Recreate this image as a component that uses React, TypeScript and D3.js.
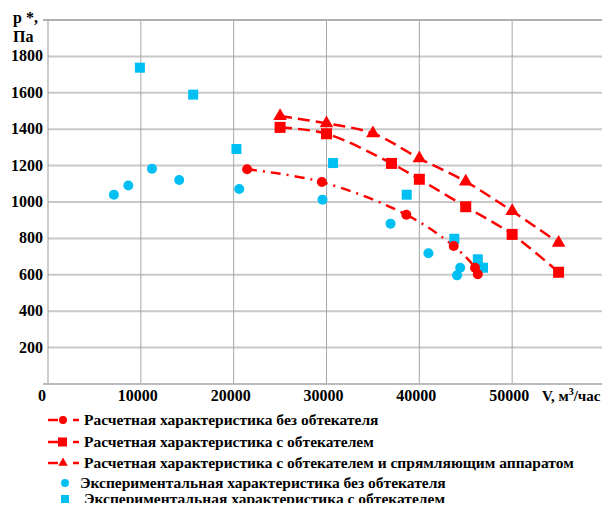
import React from "react";
import * as d3 from "d3";

// Расчетные характеристики
const calcNoFairingV = [21450, 29500, 38600, 43700, 46000, 46300];
const calcNoFairingP = [1180, 1110, 930, 758, 639, 603];

const calcFairingV = [25000, 30000, 37000, 40000, 45000, 50000, 55000];
const calcFairingP = [1410, 1375, 1212, 1125, 974, 822, 614];

const calcStraightV = [25000, 30000, 35000, 40000, 45000, 50000, 55000];
const calcStraightP = [1472, 1432, 1377, 1240, 1112, 950, 776];

// Экспериментальные характеристики
const expNoFairingV = [7100, 8650, 11200, 14130, 20600, 29570, 36900, 40980, 44400, 44060];
const expNoFairingP = [1040, 1091, 1183, 1121, 1071, 1013, 881, 718, 639, 597];

const expFairingV = [9900, 15640, 20300, 30710, 38640, 43770, 46300, 46860];
const expFairingP = [1738, 1590, 1291, 1214, 1040, 798, 685, 639];

const xTicks = [0, 10000, 20000, 30000, 40000, 50000];
const yTicks = [200, 400, 600, 800, 1000, 1200, 1400, 1600, 1800];

const legendLabels = [
  "Расчетная характеристика без обтекателя",
  "Расчетная характеристика с обтекателем",
  "Расчетная характеристика с обтекателем и спрямляющим аппаратом",
  "Экспериментальная характеристика без обтекателя",
  "Экспериментальная характеристика с обтекателем",
];

const RED = "#ff0000";
const CYAN = "#00bff3";
const FONT = "'Liberation Serif', 'DejaVu Serif', 'Times New Roman', serif";

const W = 610;
const H = 511;
const left = 48;
const right = 605;
const top = 20;
const bottom = 384;

export default function App() {
  const x = d3.scaleLinear().domain([0, 60000]).range([left, right]);
  const y = d3.scaleLinear().domain([0, 2000]).range([bottom, top]);

  const zip = (vs: number[], ps: number[]) => vs.map((v, i) => [v, ps[i]] as [number, number]);
  const line = d3
    .line<[number, number]>()
    .x((d) => x(d[0]))
    .y((d) => y(d[1]))
    .curve(d3.curveCatmullRom.alpha(0.5));

  const calc1 = zip(calcNoFairingV, calcNoFairingP);
  const calc2 = zip(calcFairingV, calcFairingP);
  const calc3 = zip(calcStraightV, calcStraightP);
  const exp1 = zip(expNoFairingV, expNoFairingP);
  const exp2 = zip(expFairingV, expFairingP);

  const tri = d3.symbol(d3.symbolTriangle, 80)();

  const legendY = [420, 442, 463, 483, 499];
  const legendX = [84, 84, 84, 80, 84];

  return (
    <div style={{ margin: -8 }}>
      <svg width={W} height={H} style={{ display: "block", background: "#fff", fontFamily: FONT }}>
        {/* grid */}
        {yTicks.map((t) => (
          <line key={"gy" + t} x1={left} x2={right} y1={y(t)} y2={y(t)} stroke="#c8c8c8" strokeWidth={2} />
        ))}
        {xTicks.slice(1).map((t) => (
          <line key={"gx" + t} x1={x(t)} x2={x(t)} y1={top} y2={bottom} stroke="#a8a8a8" strokeWidth={1} />
        ))}
        <line x1={43} x2={right} y1={top} y2={top} stroke="#b0b0b0" strokeWidth={2} />
        <line x1={right} x2={right} y1={top} y2={bottom} stroke="#b0b0b0" strokeWidth={1} />
        <line x1={left} x2={left} y1={top} y2={bottom} stroke="#999" strokeWidth={1} />
        <line x1={43} x2={right} y1={bottom} y2={bottom} stroke="#bbb" strokeWidth={2} />

        {/* y tick labels */}
        {yTicks.map((t) => (
          <text key={"ty" + t} x={43} y={y(t) + 5} textAnchor="end" fontSize={16} fontWeight="bold">
            {t}
          </text>
        ))}
        <text x={13} y={23} fontSize={16} fontWeight="bold">p *,</text>
        <text x={13} y={42} fontSize={16} fontWeight="bold">Па</text>

        {/* x tick labels */}
        {xTicks.map((t) => (
          <text key={"tx" + t} x={t === 0 ? 42 : x(t) - 3} y={401} textAnchor="middle" fontSize={16} fontWeight="bold">
            {t}
          </text>
        ))}
        <text x={542} y={401} fontSize={15} fontWeight="bold">
          V, м<tspan dy={-6} fontSize={10}>3</tspan>
          <tspan dy={6}>/час</tspan>
        </text>

        {/* calc lines */}
        <path d={line(calc1) || ""} fill="none" stroke={RED} strokeWidth={2.5} strokeDasharray="10,6,2,6" />
        <path d={line(calc2) || ""} fill="none" stroke={RED} strokeWidth={2.5} strokeDasharray="12,6" />
        <path d={line(calc3) || ""} fill="none" stroke={RED} strokeWidth={2.5} strokeDasharray="12,6" />

        {/* experimental points */}
        {exp1.map((d, i) => (
          <circle key={"e1" + i} cx={x(d[0])} cy={y(d[1])} r={5} fill={CYAN} />
        ))}
        {exp2.map((d, i) => (
          <rect key={"e2" + i} x={x(d[0]) - 5} y={y(d[1]) - 5} width={10} height={10} fill={CYAN} />
        ))}

        {/* calc points */}
        {calc1.map((d, i) => (
          <circle key={"c1" + i} cx={x(d[0])} cy={y(d[1])} r={5} fill={RED} />
        ))}
        {calc2.map((d, i) => (
          <rect key={"c2" + i} x={x(d[0]) - 5.5} y={y(d[1]) - 5.5} width={11} height={11} fill={RED} />
        ))}
        {calc3.map((d, i) => (
          <path key={"c3" + i} d={tri || ""} transform={`translate(${x(d[0])},${y(d[1])})`} fill={RED} />
        ))}

        {/* legend */}
        {legendLabels.map((label, i) => {
          const ly = legendY[i];
          const isCalc = i < 3;
          return (
            <g key={"lg" + i}>
              {isCalc && (
                <>
                  <line x1={48} x2={58} y1={ly} y2={ly} stroke={RED} strokeWidth={2.5} />
                  <line x1={73} x2={79} y1={ly} y2={ly} stroke={RED} strokeWidth={2.5} />
                  {i === 0 && <circle cx={63} cy={ly} r={4} fill={RED} />}
                  {i === 1 && <rect x={58} y={ly - 4.5} width={9} height={9} fill={RED} />}
                  {i === 2 && (
                    <path d={d3.symbol(d3.symbolTriangle, 40)() || ""} transform={`translate(63,${ly})`} fill={RED} />
                  )}
                </>
              )}
              {i === 3 && <circle cx={65} cy={ly} r={4} fill={CYAN} />}
              {i === 4 && <rect x={61} y={ly - 4} width={8} height={8} fill={CYAN} />}
              <text x={legendX[i]} y={ly + 5} fontSize={15.5} fontWeight="bold">
                {label}
              </text>
            </g>
          );
        })}
      </svg>
    </div>
  );
}
